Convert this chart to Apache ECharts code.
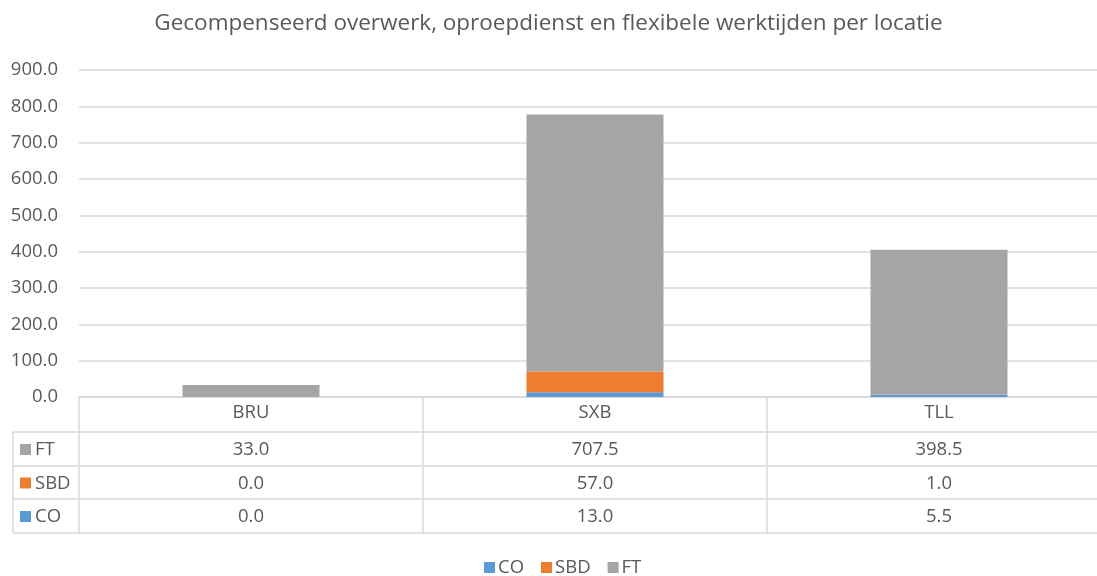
<!DOCTYPE html>
<html>
<head>
<meta charset="utf-8">
<script src="https://cdn.jsdelivr.net/npm/echarts@6/dist/echarts.min.js"></script>
<style>
  html, body { margin: 0; padding: 0; background: #fff; }
  #main { width: 1097px; height: 576px; }
</style>
</head>
<body>
<div id="main"></div>
<script>
var locations = ['BRU', 'SXB', 'TLL'];
var coValues = [0.0, 13.0, 5.5];
var sbdValues = [0.0, 57.0, 1.0];
var ftValues = [33.0, 707.5, 398.5];
var seriesNames = ['CO', 'SBD', 'FT'];
var colors = ['#5B9BD5', '#ED7D31', '#A5A5A5'];

var font = 'Open Sans';
var textColor = '#595959';
var lineColor = '#D9D9D9';
var fs = 18.5;

// plot area (table columns hang under it, last column runs past the right edge)
var gLeft = 79, gTop = 70, gWidth = 1032, gHeight = 327;
var rowH = [432, 466, 499, 533];  // bottom edges of table rows
var tableLeft = 13;

var chart = echarts.init(document.getElementById('main'));

// table rows, top to bottom: FT, SBD, CO
var tableRows = [
  { name: 'FT', color: colors[2], values: ftValues },
  { name: 'SBD', color: colors[1], values: sbdValues },
  { name: 'CO', color: colors[0], values: coValues }
];

function buildTable() {
  var els = [];
  var colW = gWidth / locations.length;
  var bottom = rowH[rowH.length - 1];
  rowH.forEach(function (y) {
    els.push({
      type: 'line', shape: { x1: tableLeft, y1: y, x2: gLeft + gWidth, y2: y },
      style: { stroke: lineColor, lineWidth: 1.5 }
    });
  });
  els.push({
    type: 'line', shape: { x1: tableLeft, y1: rowH[0], x2: tableLeft, y2: bottom },
    style: { stroke: lineColor, lineWidth: 1.5 }
  });
  tableRows.forEach(function (row, r) {
    var cy = (rowH[r] + rowH[r + 1]) / 2;
    els.push({
      type: 'rect', shape: { x: 20, y: cy - 5, width: 11, height: 11 },
      style: { fill: row.color }
    });
    els.push({
      type: 'text', x: 35, y: cy + 1,
      style: { text: row.name, font: fs + 'px "' + font + '"', fill: textColor, verticalAlign: 'middle' }
    });
    row.values.forEach(function (v, c) {
      els.push({
        type: 'text', x: gLeft + colW * (c + 0.5), y: cy + 1,
        style: { text: v.toFixed(1), font: fs + 'px "' + font + '"', fill: textColor, align: 'center', verticalAlign: 'middle' }
      });
    });
  });
  return els;
}

var option = {
  animation: false,
  backgroundColor: '#fff',
  color: colors,
  title: {
    text: 'Gecompenseerd overwerk, oproepdienst en flexibele werktijden per locatie',
    left: 'center',
    top: 7,
    textStyle: { fontFamily: font, fontSize: 22.5, fontWeight: 'normal', color: textColor }
  },
  legend: {
    bottom: -6,
    left: 479,
    icon: 'rect',
    itemWidth: 11,
    itemHeight: 11,
    itemGap: 17,
    data: seriesNames,
    textStyle: { fontFamily: font, fontSize: fs, color: textColor, padding: [0, 0, 0, -2] }
  },
  grid: { left: gLeft, top: gTop, width: gWidth, height: gHeight, outerBoundsMode: 'none' },
  xAxis: {
    type: 'category',
    data: locations,
    axisLine: { lineStyle: { color: lineColor, width: 1.5 } },
    axisTick: { show: true, length: rowH[rowH.length - 1] - (gTop + gHeight), lineStyle: { color: lineColor, width: 1.5 } },
    axisLabel: { fontFamily: font, fontSize: fs, color: textColor, margin: 6 }
  },
  yAxis: {
    type: 'value',
    min: 0,
    max: 900,
    interval: 100,
    axisLine: { show: false },
    axisTick: { show: false },
    splitLine: { lineStyle: { color: lineColor, width: 1.5 } },
    axisLabel: {
      fontFamily: font, fontSize: fs, color: textColor, margin: 21,
      formatter: function (v) { return v.toFixed(1); }
    }
  },
  series: [
    { name: 'CO', type: 'bar', stack: 'total', barWidth: 137, data: coValues },
    { name: 'SBD', type: 'bar', stack: 'total', data: sbdValues },
    { name: 'FT', type: 'bar', stack: 'total', data: ftValues }
  ],
  graphic: buildTable()
};

chart.setOption(option);
</script>
</body>
</html>
